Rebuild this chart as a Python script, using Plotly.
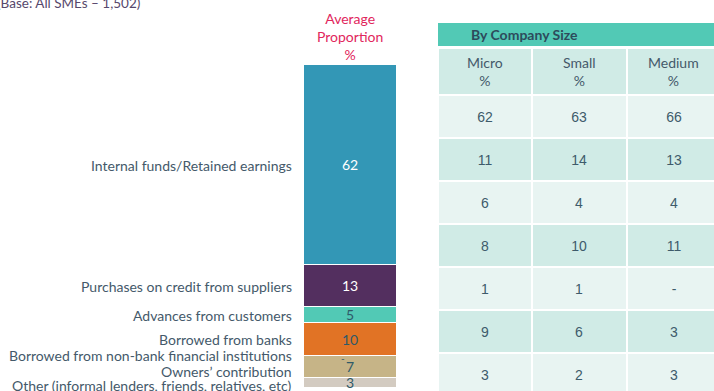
import plotly.graph_objects as go

# Sources of finance and their average share (%)
sources = [
    "Internal funds/Retained earnings",
    "Purchases on credit from suppliers",
    "Advances from customers",
    "Borrowed from banks",
    "Borrowed from non-bank financial institutions",
    "Owners\u2019 contribution",
    "Other (informal lenders, friends, relatives, etc)",
]
average = [62, 13, 5, 10, 0, 7, 3]
average_labels = ["62", "13", "5", "10", "-", "7", "3"]

# Breakdown by company size (%)
sizes = ["Micro", "Small", "Medium"]
micro = ["62", "11", "6", "8", "1", "9", "3"]
small = ["63", "14", "4", "10", "1", "6", "2"]
medium = ["66", "13", "4", "11", "-", "3", "3"]

W, H = 714, 391
FONT = "Lato"
SLATE = "#44596A"
DARK_TEXT = "#2F5A68"
seg_colors = ["#3397B6", "#532F5F", "#52C9B5", "#E17325", "#C6B487", "#C6B487", "#D3CBC1"]
text_colors = ["white", "white", DARK_TEXT, DARK_TEXT, DARK_TEXT, DARK_TEXT, DARK_TEXT]


def px_x(p):
    return p / W


def px_y(p):
    return 1 - p / H


fig = go.Figure()

# Stacked single column of average proportions
for i, (name, val, lab) in enumerate(zip(sources, average, average_labels)):
    if val == 0:
        continue
    fig.add_trace(go.Bar(
        x=["avg"], y=[val], name=name,
        marker=dict(color=seg_colors[i], line=dict(color="white", width=1)),
        text=[lab], textposition="inside", insidetextanchor="middle",
        textangle=0, constraintext="none",
        textfont=dict(family=FONT, size=14, color=text_colors[i]),
        width=1, hoverinfo="skip", showlegend=False,
        xaxis="x", yaxis="y",
    ))

annotations = []
cum = 0
for i, (name, val, lab) in enumerate(zip(sources, average, average_labels)):
    centre = cum + val / 2
    shift = {5: -4, 6: -2}.get(i, 0)
    annotations.append(dict(
        x=px_x(294), xref="paper", xanchor="right",
        y=centre, yref="y", yanchor="middle", yshift=shift,
        text=name, showarrow=False,
        font=dict(family=FONT, size=14, color=SLATE),
    ))
    if val == 0:
        annotations.append(dict(
            x="avg", xref="x", y=centre, yref="y", xshift=-8, yshift=-2,
            text=lab, showarrow=False,
            font=dict(family=FONT, size=10, color=DARK_TEXT),
        ))
    cum += val

# Breakdown table drawn as a heatmap grid
columns = [micro, small, medium]
n_rows = len(sources)
header_h = 1.1
y_edges = [0, header_h] + [header_h + k + 1 for k in range(n_rows)]
z = [[0] * 3] + [[1 if r % 2 == 0 else 0] * 3 for r in range(n_rows)]
cell_text = [[""] * 3] + [[col[r] for col in columns] for r in range(n_rows)]

fig.add_trace(go.Heatmap(
    x=[0, 1, 2], y=y_edges, z=z, text=cell_text,
    texttemplate="%{text}",
    textfont=dict(family="Liberation Sans", size=14, color="#3E5B6B"),
    colorscale=[[0, "#D0EBE6"], [1, "#E8F4F2"]], zmin=0, zmax=1,
    showscale=False, xgap=2, ygap=2, hoverinfo="skip",
    xaxis="x2", yaxis="y2",
))

for j, s in enumerate(sizes):
    annotations.append(dict(
        x=j, xref="x2", y=header_h / 2, yref="y2", yanchor="middle",
        text=f"{s}<br>%", showarrow=False,
        font=dict(family=FONT, size=14, color=SLATE),
    ))

annotations += [
    dict(x=px_x(350), xref="paper", y=px_y(36), yref="paper", yanchor="middle",
         text="Average<br>Proportion<br>%", showarrow=False,
         font=dict(family=FONT, size=14, color="#E1265C")),
    dict(x=px_x(-5), xref="paper", xanchor="left", y=px_y(3), yref="paper",
         yanchor="middle", text="(Base: All SMEs \u2013 1,502)", showarrow=False,
         font=dict(family=FONT, size=13.5, color="#56486C")),
    dict(x=px_x(580), xref="paper",
         y=(px_y(23) + px_y(46)) / 2, yref="paper", yanchor="middle",
         text="<b>By Company Size</b>", showarrow=False,
         font=dict(family=FONT, size=14, color="#2D4B5C")),
]

col_px = 94.3
fig.update_layout(
    width=W, height=H,
    margin=dict(l=0, r=0, t=0, b=0),
    paper_bgcolor="white", plot_bgcolor="white",
    barmode="stack", bargap=0,
    xaxis=dict(domain=[px_x(304), px_x(397)], range=[-0.5, 0.5],
               visible=False, fixedrange=True),
    yaxis=dict(domain=[px_y(388), px_y(65)], range=[100, 0],
               visible=False, fixedrange=True),
    xaxis2=dict(domain=[px_x(438), 1], range=[-0.5, -0.5 + (W - 438) / col_px],
                visible=False, fixedrange=True),
    yaxis2=dict(domain=[0, px_y(48)], range=[(H - 48) / 43, 0],
                visible=False, fixedrange=True),
    shapes=[dict(type="rect", xref="paper", yref="paper",
                 x0=px_x(438), x1=1, y0=px_y(46), y1=px_y(23),
                 fillcolor="#52C9B5", line=dict(width=0), layer="below")],
    annotations=annotations,
)

fig.write_html("out.html")
